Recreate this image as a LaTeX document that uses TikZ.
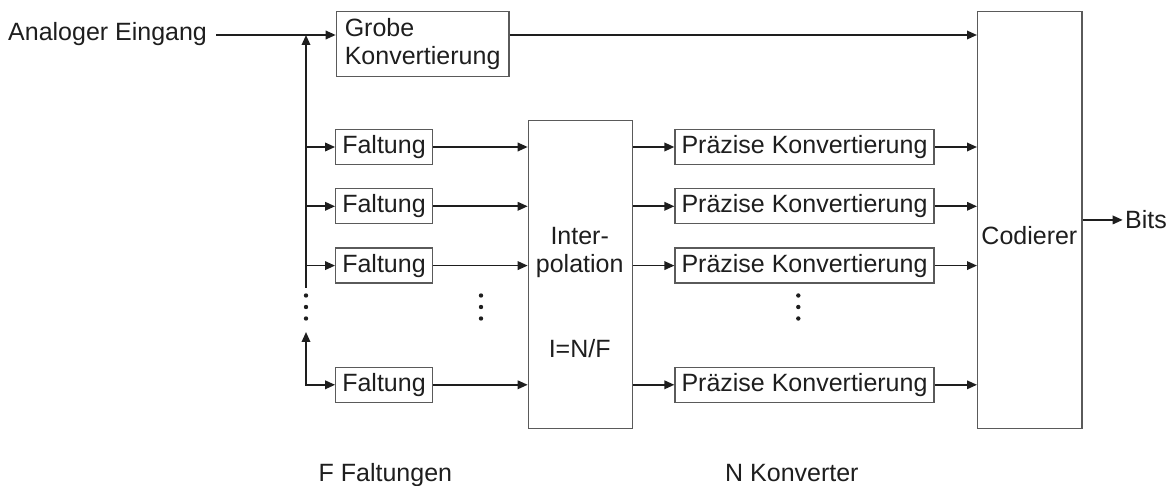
\documentclass[tikz,border=0pt]{standalone}
\usepackage{fontspec}
\setmainfont{Liberation Sans}
\usetikzlibrary{arrows.meta}
\definecolor{ink}{HTML}{1E1E1E}
\definecolor{frame}{HTML}{5A5A5A}
\begin{document}
\begin{tikzpicture}[x=1pt,y=-1pt,
  txt/.style={inner sep=0pt, text=ink, font=\fontsize{25}{27.5}\selectfont},
  blk/.style={draw=frame, line width=1.2pt, inner sep=0pt, text=ink,
              font=\fontsize{25}{27.5}\selectfont},
  fold/.style={blk, minimum width=96.6pt, minimum height=35pt},
  fine/.style={blk, minimum width=259pt, minimum height=35pt},
  tip/.tip={Triangle[length=10pt,width=8.5pt]},
  sig/.style={draw=ink, line width=1.8pt, -tip},
]
\useasboundingbox (0,0) rectangle (1176,486);

% input and coarse path
\node[txt, anchor=base west] (ain) at (8,41) {Analoger Eingang};
\coordinate (split) at (306,35);
\coordinate (vtop) at (306,288);
\coordinate (vbot) at (306,332);
\node[blk, anchor=north west, minimum width=172.6pt, minimum height=65.3pt,
      align=left] (grob) at (335.7,10.7) {Grobe\\Konvertierung};

% big blocks
\node[blk, anchor=north west, minimum width=104pt, minimum height=307.5pt]
  (interp) at (527.7,120) {};
\node[blk, anchor=north west, minimum width=104.3pt, minimum height=417.3pt]
  (cod) at (977,10.7) {};
\node[txt, anchor=base] (itxt1) at (579.7,245) {Inter-};
\node[txt, anchor=base] (itxt2) at (579.7,272.7) {polation};
\node[txt, anchor=base] (itxt3) at (579.7,358) {I=N/F};
\node[txt, anchor=base] (ctxt) at (1029.4,245) {Codierer};

% folding and fine conversion rows
\foreach \i/\y in {1/147,2/206.3,3/265.6,4/384.8} {
  \node[fold] (f\i) at (384,\y) {Faltung};
  \node[fine] (p\i) at (804.5,\y) {Präzise Konvertierung};
}

% output
\node[txt, anchor=base west] (bits) at (1125,228.3) {Bits};

% connectors
\draw[sig] ([xshift=9pt]ain.east |- split) -- (grob.west |- split);
\draw[sig] (grob.east |- split) -- (cod.west |- split);
\draw[sig] (vtop) -- (split);
\foreach \i in {1,2,3}
  \draw[sig] (f\i.west -| split) -- (f\i.west);
\draw[sig, tip-tip] (vbot) |- (f4.west);
\foreach \i in {1,...,4} {
  \draw[sig] (f\i.east) -- (interp.west |- f\i.east);
  \draw[sig] (interp.east |- p\i.west) -- (p\i.west);
  \draw[sig] (p\i.east) -- (cod.west |- p\i.east);
}
\draw[sig] (cod.east) -- ([xshift=-2.3pt]bits.west |- cod.east);

% ellipsis dots
\foreach \x in {306,481,798.3}
  \foreach \y in {295.5,307,318.5}
    \fill[ink] (\x,\y) circle (2.2pt);

% captions
\node[txt, anchor=base west] (capf) at (318.5,481) {F Faltungen};
\node[txt, anchor=base west] (capn) at (725,481) {N Konverter};
\end{tikzpicture}
\end{document}
